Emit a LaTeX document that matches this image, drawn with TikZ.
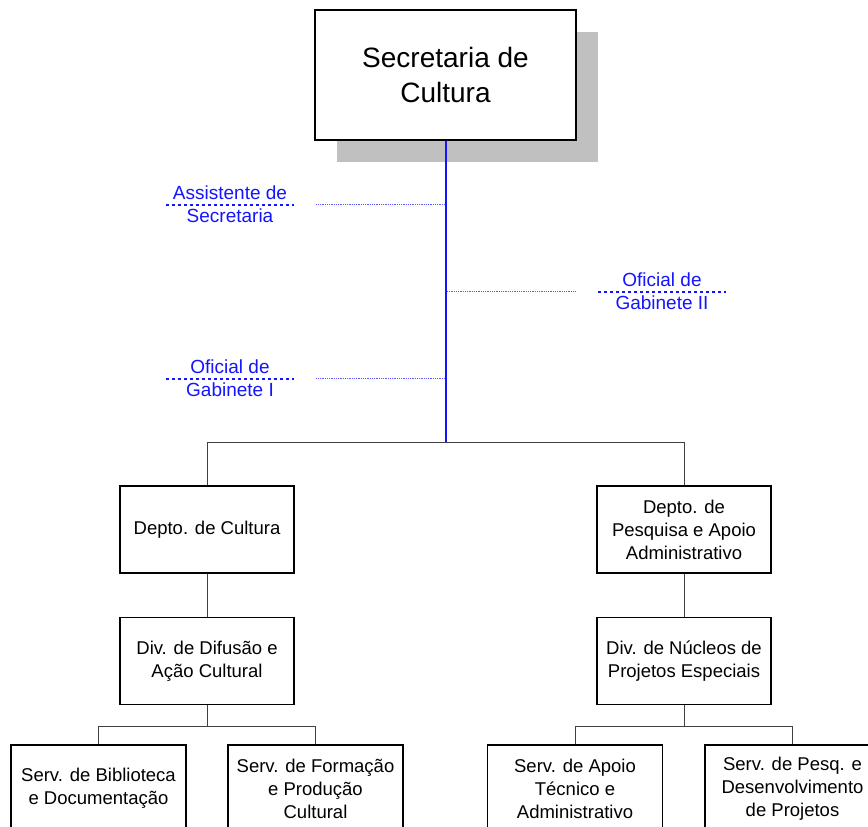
\documentclass[tikz,border=0pt]{standalone}
\usepackage{fontspec}
\setmainfont{Liberation Sans}
\usetikzlibrary{positioning, shadows}
\definecolor{orgblue}{RGB}{20,20,255}
\definecolor{shadowgray}{RGB}{192,192,192}
\tikzstyle{head} = [rectangle, minimum width=261pt, minimum height=130pt, align=center, draw=black, line width=1.6pt, fill=white, font=\fontsize{28}{35}\selectfont, drop shadow={shadow xshift=22pt, shadow yshift=-22pt, fill=shadowgray, opacity=1}]
\tikzstyle{unit} = [rectangle, minimum width=174pt, minimum height=87pt, inner sep=2pt, align=center, draw=black, line width=1.6pt, fill=white, font=\fontsize{18.5}{23}\selectfont]
\tikzstyle{staff} = [inner sep=0pt, minimum width=128pt, align=center, text=orgblue, font=\fontsize{19}{23}\selectfont]
\tikzstyle{link} = [draw=black!75, line width=1pt]
\tikzstyle{mainline} = [draw=orgblue, line width=2pt]
\tikzstyle{staffline} = [draw=orgblue!70, line width=0.9pt, dash pattern=on 1pt off 0.8pt]
\tikzstyle{underline} = [draw=orgblue, line width=2pt, dash pattern=on 3pt off 3pt]

\begin{document}
\begin{tikzpicture}[x=1pt, y=-1pt]
            \clip (0,0) rectangle (868,827);
            % Nodes
            \node (sec) [head] at (445.5,75) {Secretaria de\\Cultura};

            \node (asst) [staff] at (230,204.5) {Assistente de\\Secretaria};
            \node (gab2) [staff] at (662,291.5) {Oficial de\\Gabinete II};
            \node (gab1) [staff] at (230,378.5) {Oficial de\\Gabinete I};

            \coordinate (junc) at (445.5,442);

            \node (dcult) [unit] at (207,529.5) {Depto. de Cultura};
            \node (dpesq) [unit] at (684,529.5) {Depto. de\\Pesquisa e Apoio\\Administrativo};
            \node (difusao) [unit, below=43pt of dcult] {Div. de Difusão e\\Ação Cultural};
            \node (nucleos) [unit, below=43pt of dpesq] {Div. de Núcleos de\\Projetos Especiais};

            \node (biblio) [unit, minimum width=175pt] at (98.5,788.5) {Serv. de Biblioteca\\e Documentação};
            \node (formacao) [unit, minimum width=175pt] at (315.5,788.5) {Serv. de Formação\\e Produção\\Cultural};
            \node (apoio) [unit, minimum width=175pt] at (575,788.5) {Serv. de Apoio\\Técnico e\\Administrativo};
            \node (desenv) [unit, minimum width=175pt] at (792.5,788.5) {Serv. de Pesq. e\\Desenvolvimento\\de Projetos};

            % Staff lines
            \draw [underline] (asst.west) -- (asst.east);
            \draw [underline] (gab2.west) -- (gab2.east);
            \draw [underline] (gab1.west) -- (gab1.east);
            \draw [staffline] ([xshift=22pt]asst.east) -- (asst.east -| sec.south);
            \draw [staffline] ([xshift=-22pt]gab2.west) -- (gab2.west -| sec.south);
            \draw [staffline] ([xshift=22pt]gab1.east) -- (gab1.east -| sec.south);

            % Edges
            \draw [link] (junc) -| (dcult.north);
            \draw [link] (junc) -| (dpesq.north);
            \draw [mainline] (sec.south) -- (sec.south |- junc);
            \draw [link] (dcult) -- (difusao);
            \draw [link] (dpesq) -- (nucleos);
            \draw [link] (difusao.south) -- ++(0,21) -| (biblio.north);
            \draw [link] (difusao.south) -- ++(0,21) -| (formacao.north);
            \draw [link] (nucleos.south) -- ++(0,21) -| (apoio.north);
            \draw [link] (nucleos.south) -- ++(0,21) -| (desenv.north);
        \end{tikzpicture}
\end{document}
